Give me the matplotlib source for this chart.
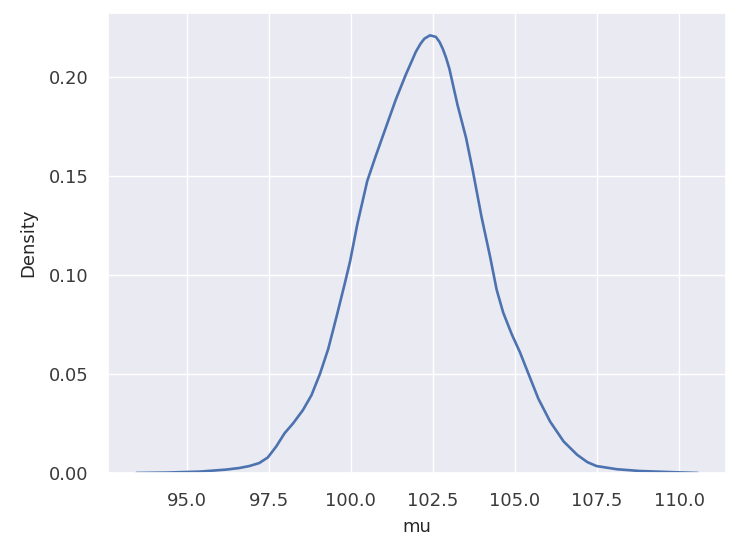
import matplotlib
matplotlib.use("Agg")
import matplotlib.pyplot as plt
import seaborn as sns

# KDE curve of mu
mu = [93.47, 94.4, 95.4, 96.2, 96.6, 96.91, 97.21, 97.47, 97.73, 97.98,
      98.24, 98.54, 98.8, 99.06, 99.31, 99.57, 99.82, 99.98, 100.2, 100.5,
      100.76, 101.06, 101.37, 101.67, 101.98, 102.12, 102.24, 102.41, 102.59,
      102.7, 102.8, 102.9, 103.0, 103.25, 103.51, 103.72, 103.98, 104.24,
      104.44, 104.64, 104.9, 105.15, 105.41, 105.71, 106.07, 106.48, 106.89,
      107.2, 107.48, 108.1, 108.8, 109.8, 110.57]
density = [0.0, 0.0002, 0.0007, 0.0017, 0.0025, 0.0035, 0.005, 0.0078, 0.0134,
           0.020, 0.025, 0.0317, 0.0392, 0.050, 0.0625, 0.0792, 0.0959, 0.107,
           0.1257, 0.1473, 0.160, 0.174, 0.1884, 0.2008, 0.2125, 0.2165, 0.2191,
           0.2208, 0.220, 0.2175, 0.214, 0.2095, 0.204, 0.1856, 0.169, 0.152,
           0.1292, 0.1092, 0.0925, 0.0809, 0.070, 0.0609, 0.050, 0.0375, 0.0259,
           0.0159, 0.0092, 0.0055, 0.0035, 0.0019, 0.001, 0.0004, 0.0]

x_ticks = [95.0, 97.5, 100.0, 102.5, 105.0, 107.5, 110.0]
y_ticks = [0.00, 0.05, 0.10, 0.15, 0.20]

sns.set_theme()
plt.rcParams['font.family'] = ['DejaVu Sans']

fig = plt.figure(figsize=(7.46, 5.51), dpi=100)
ax = fig.add_axes([0.1452, 0.1416, 0.828, 0.834])

line, = ax.plot(mu, density, color='#4c72b0', lw=1.9,
                solid_joinstyle='round', solid_capstyle='round')
line.sticky_edges.y[:] = [0]

ax.set_xticks(x_ticks)
ax.set_xticklabels([f"{v:.1f}" for v in x_ticks])
ax.set_yticks(y_ticks)
ax.set_yticklabels([f"{v:.2f}" for v in y_ticks])
ax.tick_params(labelsize=13, colors='#3a3a3a', pad=8)
ax.set_ylim(bottom=0)

ax.set_xlabel('mu', fontsize=13, color='#262626', labelpad=5.5)
ax.set_ylabel('Density', fontsize=13, color='#262626', labelpad=8.5)

fig.savefig('out.png', dpi=100)
